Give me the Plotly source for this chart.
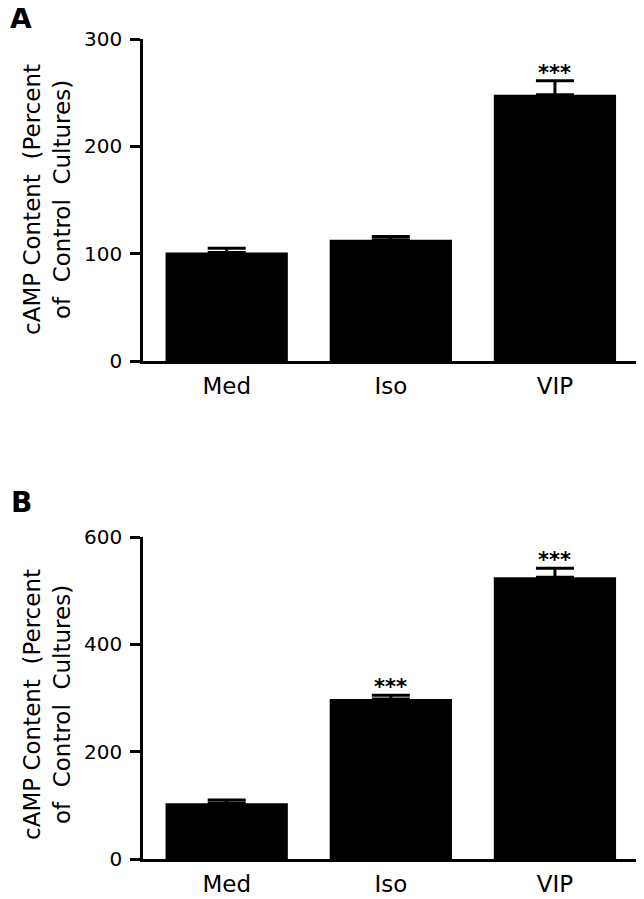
import plotly.graph_objects as go

# data
groups = ["Med", "Iso", "VIP"]
camp_a = [101, 113, 248]
err_a = [4, 3, 13]
stars_a = ["", "", "***"]
camp_b = [104, 298, 525]
err_b = [6, 7, 17]
stars_b = ["", "***", "***"]
yticks_a = [0, 100, 200, 300]
yticks_b = [0, 200, 400, 600]

W, H = 644, 899
OFF = 8  # page body margin, positions below are in screen px
FONT = "DejaVu Sans, Liberation Sans, Arial, sans-serif"


def px_x(p):
    return (p - OFF) / W


def px_y(p):
    return 1 - (p - OFF) / H


fig = go.Figure()

# (x axis, y axis, values, errors, stars, ticks, y span in px from top, letter, letter y, title y)
panels = [
    ("x", "y", camp_a, err_a, stars_a, yticks_a, (361, 39), "A", 18, 200),
    ("x2", "y2", camp_b, err_b, stars_b, yticks_b, (859, 537), "B", 502, 705),
]

for xa, ya, vals, errs, stars, ticks, ypx, letter, letter_y, title_y in panels:
    fig.add_trace(go.Bar(
        x=groups, y=vals, xaxis=xa, yaxis=ya,
        marker=dict(color="black", line=dict(width=0)),
        width=0.745,
        error_y=dict(type="data", symmetric=False, array=errs,
                     arrayminus=[0] * len(errs), color="black",
                     thickness=3, width=19),
        showlegend=False,
    ))
    for g, v, e, s in zip(groups, vals, errs, stars):
        if s:
            fig.add_annotation(x=g, y=v + e, xref=xa, yref=ya, text="<b>" + s + "</b>",
                               showarrow=False, yanchor="bottom", yshift=-6,
                               font=dict(size=21, color="black", family=FONT))
    suffix = "" if xa == "x" else "2"
    fig.update_layout(**{
        "xaxis" + suffix: dict(domain=[px_x(143), px_x(637)], range=[-0.51, 2.5],
                               showline=True, linecolor="black", linewidth=2.5,
                               ticks="", showgrid=False, zeroline=False,
                               ticklabelstandoff=3,
                               tickfont=dict(size=23, color="black", family=FONT),
                               anchor=ya, fixedrange=True),
        "yaxis" + suffix: dict(domain=[px_y(ypx[0]), px_y(ypx[1])],
                               range=[0, ticks[-1]],
                               tickvals=ticks, showline=True, linecolor="black",
                               linewidth=2.5, ticks="outside", ticklen=10,
                               tickwidth=2.5, tickcolor="black", showgrid=False,
                               zeroline=False, ticklabelstandoff=4,
                               tickfont=dict(size=20, color="black", family=FONT),
                               anchor=xa),
    })
    fig.add_annotation(x=px_x(47), y=px_y(title_y), xref="paper", yref="paper",
                       text="cAMP Content  (Percent<br>of  Control  Cultures)",
                       textangle=-90, showarrow=False, xanchor="center", yanchor="middle",
                       font=dict(size=23, color="black", family=FONT))
    fig.add_annotation(x=px_x(21), y=px_y(letter_y), xref="paper", yref="paper",
                       text="<b>" + letter + "</b>", showarrow=False,
                       xanchor="center", yanchor="middle",
                       font=dict(size=28, color="black", family=FONT))

fig.update_layout(
    width=W, height=H,
    margin=dict(l=0, r=0, t=0, b=0, autoexpand=False),
    paper_bgcolor="white", plot_bgcolor="white",
)

fig.write_html("out.html")
